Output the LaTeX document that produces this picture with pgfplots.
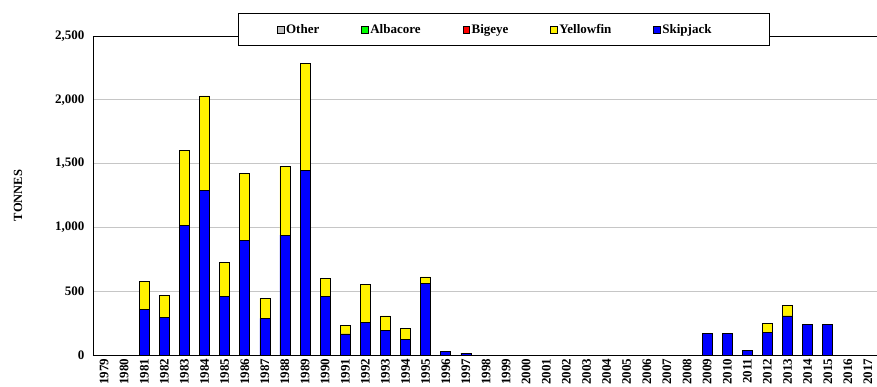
\documentclass[border=0pt]{standalone}
\usepackage{fontspec}
\setmainfont{Liberation Serif}
\usepackage{pgfplots}
\usepackage{pgfplotstable}
\pgfplotsset{compat=1.18}
\definecolor{othergray}{RGB}{192,192,192}
\pgfplotstableread{
idx year skip yf
0 1979 0 0
1 1980 0 0
2 1981 358 217
3 1982 295 170
4 1983 1013 592
5 1984 1288 742
6 1985 462 264
7 1986 901 523
8 1987 287 157
9 1988 940 541
10 1989 1445 840
11 1990 462 139
12 1991 165 65
13 1992 256 300
14 1993 191 115
15 1994 125 84
16 1995 562 50
17 1996 25 0
18 1997 15 0
19 1998 0 0
20 1999 0 0
21 2000 0 0
22 2001 0 0
23 2002 0 0
24 2003 0 0
25 2004 0 0
26 2005 0 0
27 2006 0 0
28 2007 0 0
29 2008 0 0
30 2009 168 0
31 2010 168 0
32 2011 35 0
33 2012 175 73
34 2013 306 84
35 2014 240 0
36 2015 240 0
37 2016 0 0
38 2017 0 0
}\data
\begin{document}
\begin{tikzpicture}
\begin{axis}[name=ax, scale only axis, width=784pt, height=319pt,
  ybar stacked, bar width=10pt,
  xmin=-0.55, xmax=38.45, ymin=0, ymax=2500,
  xtick=data, xticklabels from table={\data}{year},
  ytick={0,500,1000,1500,2000,2500},
  /pgf/number format/assume math mode=true,
  /pgf/number format/1000 sep={,},
  major tick length=0pt,
  axis x line*=box, axis y line*=left,
  axis line style={-, black, line width=0.8pt},
  ymajorgrids, grid style={gray!45, line width=0.9pt},
  ticklabel style={font=\bfseries\fontsize{13}{13}\selectfont},
  xticklabel style={rotate=90, anchor=east},
  yticklabel style={xshift=-5pt},
  ylabel={TONNES},
  ylabel style={font=\bfseries\fontsize{12.5}{12.5}\selectfont, at={(axis description cs:-0.0957,0.5)}, anchor=center},
  legend columns=5,
  reverse legend,
  legend image code/.code={\draw[#1,draw=black,line width=0.5pt] (0pt,-3.5pt) rectangle (6.5pt,3.5pt);},
  legend style={at={(0.524,1.0204)}, anchor=center, draw=black, line width=0.8pt, fill=white,
    font=\bfseries\fontsize{13}{15}\selectfont, inner xsep=39pt, inner ysep=8.5pt,
    /tikz/every even column/.append style={column sep=40pt}},
]
\addplot[fill=blue, draw=black, line width=0.7pt] table[x=idx, y=skip]{\data};
\addplot[fill=yellow, draw=black, line width=0.7pt] table[x=idx, y=yf]{\data};
\addlegendimage{fill=red}
\addlegendimage{fill=green}
\addlegendimage{fill=othergray}
\legend{Skipjack\hspace{17pt}\null,Yellowfin,Bigeye,Albacore,Other}
\end{axis}
\pgfresetboundingbox
\useasboundingbox ([xshift=-93pt,yshift=-32pt]ax.south west) rectangle ([yshift=36pt]ax.north east);
\end{tikzpicture}
\end{document}
